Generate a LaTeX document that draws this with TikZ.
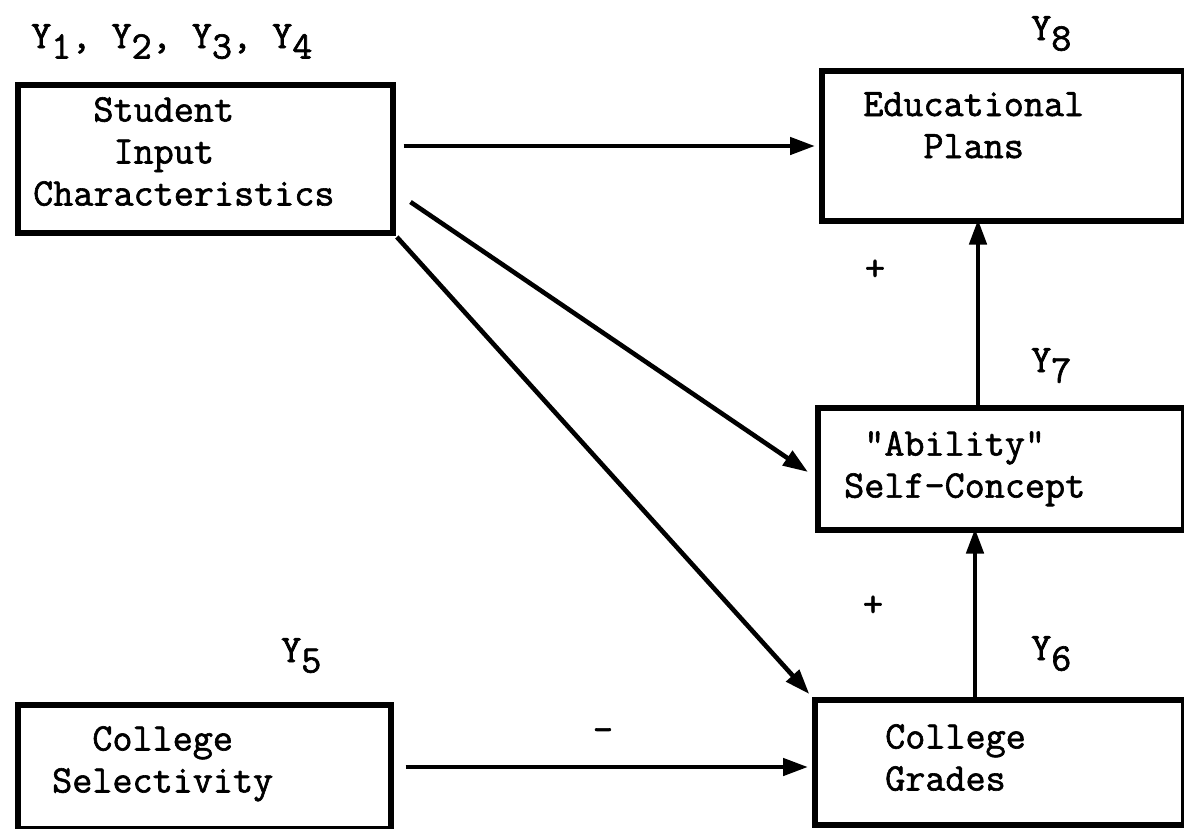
\documentclass[tikz,border=0pt]{standalone}
\usepackage{fontspec}
\newfontfamily\typew{Latin Modern Mono}[FakeBold=1.6]
\usetikzlibrary{arrows.meta,calc}
\newcommand\Ysb[1]{Y\raisebox{-0.27em}{#1}}
\begin{document}
\begin{tikzpicture}[x=1pt,y=-1pt,
  box/.style={draw, line width=5.5pt, rectangle, inner sep=0pt, anchor=north west},
  txt/.style={font=\typew\fontsize{39}{42}\selectfont, inner sep=0pt, align=left},
  lbl/.style={font=\typew\fontsize{39}{42}\selectfont, inner sep=0pt, anchor=base west},
  arr/.style={line width=4.6pt, -{Triangle[length=25pt,width=17pt]}}]
\useasboundingbox (0,0) rectangle (1184,828);
% boxes
\node[box, minimum width=375pt, minimum height=148pt] (S) at (15,82) {};
\node[box, minimum width=362pt, minimum height=150pt] (E) at (819,68) {};
\node[box, minimum width=366pt, minimum height=122pt] (A) at (815,405) {};
\node[box, minimum width=373pt, minimum height=124pt] (C) at (15,702) {};
\node[box, minimum width=369pt, minimum height=125pt] (G) at (812,697) {};
% box texts
\node[txt, anchor=north west] (St) at (33,97) {~~~Student\\~~~~Input\\Characteristics};
\node[txt, anchor=north west] (Et) at (863,92) {Educational\\~~~Plans};
\node[txt, anchor=north west] (At) at (844,431) {~"Ability"\\Self-Concept};
\node[txt, anchor=north west] (Ct) at (52,726) {~~College\\Selectivity};
\node[txt, anchor=north west] (Gt) at (885,724) {College\\Grades};
% variable labels
\node[lbl] (y14) at (31,48) {\Ysb{1}, \Ysb{2}, \Ysb{3}, \Ysb{4}};
\node[lbl] (y8) at (1031,40) {\Ysb{8}};
\node[lbl] (y7) at (1031,372) {\Ysb{7}};
\node[lbl] (y5) at (281,662) {\Ysb{5}};
\node[lbl] (y6) at (1031,660) {\Ysb{6}};
% signs
\node[txt, anchor=center] (p1) at (875,270) {+};
\node[txt, anchor=center] (p2) at (873,606) {+};
\node[txt, anchor=center] (m1) at (603,735) {-};
% arrows
\draw[arr] ([xshift=8pt]S.east |- 0,146) -- ([xshift=-4pt]E.west |- 0,146);
\draw[arr] ([xshift=15pt]S.east |- 0,202) -- ([xshift=-7pt]A.west |- 0,472);
\draw[arr, shorten <=2pt, shorten >=4pt] (S.south east) -- (G.north west);
\draw[arr] ([xshift=12pt]C.east |- 0,767) -- ([xshift=-4pt]G.west |- 0,767);
\draw[arr] (A.north -| 978,0) -- ([yshift=4pt]E.south -| 978,0);
\draw[arr] (G.north -| 975,0) -- ([yshift=4pt]A.south -| 975,0);
\end{tikzpicture}
\end{document}
